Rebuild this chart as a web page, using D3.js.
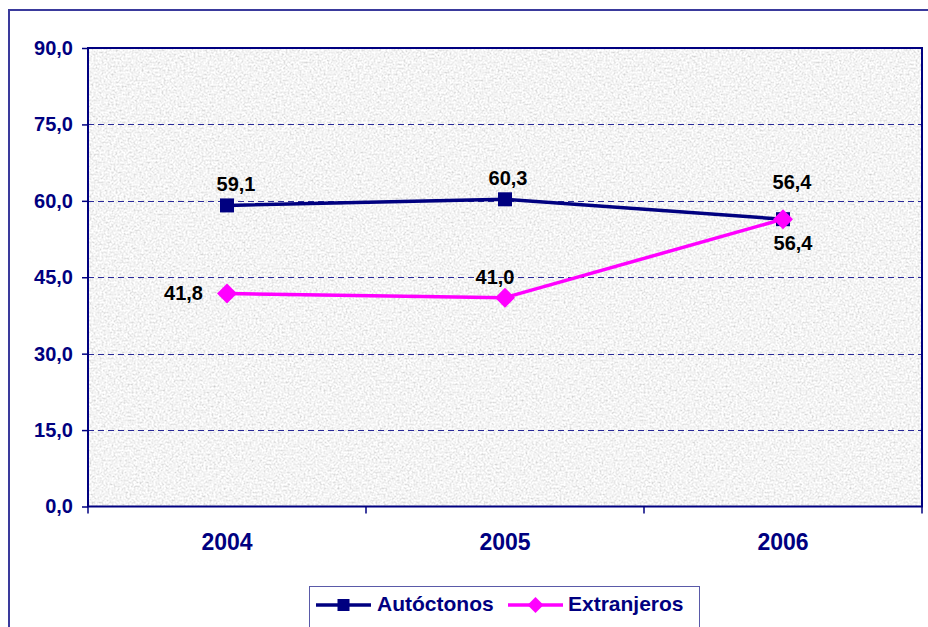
<!DOCTYPE html>
<html>
<head>
<meta charset="utf-8">
<script src="https://cdn.jsdelivr.net/npm/d3@7"></script>
<style>
  body { margin: 0; background: #fff; }
  svg { display: block; font-family: "Liberation Sans", Arial, sans-serif; font-weight: bold; }
</style>
</head>
<body>
<div id="chart"></div>
<script>
// ************** data *****************
var years = ["2004", "2005", "2006"];
var autoctonos = [59.1, 60.3, 56.4];
var extranjeros = [41.8, 41.0, 56.4];
var yTicks = [0, 15, 30, 45, 60, 75, 90];
var seriesNames = ["Autóctonos", "Extranjeros"];

// where the value labels sit round each point
var labelPosA = ["above", "above", "top"];
var labelPosE = ["left", "above", "below"];

var width = 928, height = 627;
var plot = {left: 88, top: 48, right: 922, bottom: 506.5};

var navy = "#000080", pink = "#ff00ff";

var svg = d3.select("#chart").append("svg")
  .attr("width", width)
  .attr("height", height);

// granite-like texture for the plot area
var defs = svg.append("defs");
var filt = defs.append("filter")
  .attr("id", "granite")
  .attr("x", 0).attr("y", 0).attr("width", 1).attr("height", 1);
filt.append("feTurbulence")
  .attr("type", "fractalNoise")
  .attr("baseFrequency", 0.5)
  .attr("numOctaves", 3)
  .attr("seed", 4)
  .attr("result", "noise");
filt.append("feColorMatrix")
  .attr("in", "noise")
  .attr("type", "matrix")
  .attr("values", "0.33 0.33 0.33 0 0  0.33 0.33 0.33 0 0  0.33 0.33 0.33 0 0  0 0 0 0 1")
  .attr("result", "gray");
var tr = filt.append("feComponentTransfer").attr("in", "gray");
["feFuncR", "feFuncG", "feFuncB"].forEach(function(f) {
  tr.append(f).attr("type", "linear").attr("slope", -1.1).attr("intercept", 1.45);
});

//outer frame
svg.append("rect")
  .attr("x", 9).attr("y", 10)
  .attr("width", 960).attr("height", 660)
  .attr("fill", "white")
  .attr("stroke", "#3a3a9c")
  .attr("stroke-width", 2);

//scales
var x = d3.scaleBand()
  .domain(years)
  .range([plot.left, plot.right]);

var y = d3.scaleLinear()
  .domain([0, 90])
  .range([plot.bottom, plot.top]);

//plot background
svg.append("rect")
  .attr("x", plot.left).attr("y", plot.top)
  .attr("width", plot.right - plot.left)
  .attr("height", plot.bottom - plot.top)
  .attr("fill", "#e6e6e6");
svg.append("rect")
  .attr("x", plot.left).attr("y", plot.top)
  .attr("width", plot.right - plot.left)
  .attr("height", plot.bottom - plot.top)
  .attr("filter", "url(#granite)");

//gridlines
svg.append("g")
  .selectAll("line")
  .data(yTicks.filter(function(d) { return d > 0 && d < 90; }))
  .enter()
  .append("line")
  .attr("x1", plot.left).attr("x2", plot.right)
  .attr("y1", function(d) { return Math.round(y(d)) + 0.5; })
  .attr("y2", function(d) { return Math.round(y(d)) + 0.5; })
  .attr("stroke", "#2a2a9a")
  .attr("stroke-width", 1)
  .attr("stroke-dasharray", "6,4");

//plot border
svg.append("rect")
  .attr("x", plot.left).attr("y", plot.top)
  .attr("width", plot.right - plot.left)
  .attr("height", plot.bottom - plot.top)
  .attr("fill", "none")
  .attr("stroke", navy)
  .attr("stroke-width", 2);

//y axis
var yAxis = svg.append("g")
  .attr("transform", "translate(" + plot.left + ",0)")
  .call(d3.axisLeft(y).tickValues(yTicks).tickSize(6).tickPadding(9)
    .tickFormat(function(d) { return d3.format(".1f")(d).replace(".", ","); }));
yAxis.select(".domain").remove();
yAxis.selectAll(".tick line").attr("stroke", navy).attr("stroke-width", 1.5);
yAxis.selectAll(".tick text")
  .attr("fill", navy)
  .attr("font-size", "20px")
  .attr("font-weight", "bold")
  .attr("font-family", "Liberation Sans, Arial, sans-serif");

//x axis: ticks between categories
svg.append("g")
  .selectAll("line")
  .data(years.concat(["end"]))
  .enter()
  .append("line")
  .attr("x1", function(d, i) { return plot.left + i * x.step(); })
  .attr("x2", function(d, i) { return plot.left + i * x.step(); })
  .attr("y1", plot.bottom)
  .attr("y2", plot.bottom + 7)
  .attr("stroke", navy)
  .attr("stroke-width", 1.5);

svg.append("g")
  .selectAll("text")
  .data(years)
  .enter()
  .append("text")
  .attr("x", function(d) { return x(d) + x.bandwidth() / 2; })
  .attr("y", 550)
  .attr("text-anchor", "middle")
  .attr("font-size", "23px")
  .attr("fill", navy)
  .text(function(d) { return d; });

//lines
var line = d3.line()
  .x(function(d, i) { return x(years[i]) + x.bandwidth() / 2; })
  .y(function(d) { return y(d); });

svg.append("path")
  .datum(autoctonos)
  .attr("d", line)
  .attr("fill", "none")
  .attr("stroke", navy)
  .attr("stroke-width", 3.5);

svg.append("path")
  .datum(extranjeros)
  .attr("d", line)
  .attr("fill", "none")
  .attr("stroke", pink)
  .attr("stroke-width", 3.5);

//markers
var sq = 14, dm = 10;
svg.append("g")
  .selectAll("rect")
  .data(autoctonos)
  .enter()
  .append("rect")
  .attr("x", function(d, i) { return x(years[i]) + x.bandwidth() / 2 - sq / 2; })
  .attr("y", function(d) { return y(d) - sq / 2; })
  .attr("width", sq)
  .attr("height", sq)
  .attr("fill", navy);

svg.append("g")
  .selectAll("path")
  .data(extranjeros)
  .enter()
  .append("path")
  .attr("transform", function(d, i) {
    return "translate(" + (x(years[i]) + x.bandwidth() / 2) + "," + y(d) + ")";
  })
  .attr("d", "M0," + (-dm) + "L" + dm + ",0L0," + dm + "L" + (-dm) + ",0Z")
  .attr("fill", pink);

//value labels
var fmt = function(d) { return d3.format(".1f")(d).replace(".", ","); };

function placeLabel(sel, pos, dx) {
  sel.attr("x", function(d, i) {
      var cx = x(years[i]) + x.bandwidth() / 2;
      if (pos[i] == "left") return cx - 24;
      return cx + dx[i];
    })
    .attr("y", function(d, i) {
      if (pos[i] == "above") return y(d) - 14;
      if (pos[i] == "top") return y(d) - 30;
      if (pos[i] == "below") return y(d) + 31;
      return y(d) + 1;
    })
    .attr("text-anchor", function(d, i) { return pos[i] == "left" ? "end" : "middle"; })
    .attr("dominant-baseline", function(d, i) { return pos[i] == "left" ? "middle" : "auto"; });
}

svg.append("g")
  .selectAll("text")
  .data(autoctonos)
  .enter()
  .append("text")
  .attr("font-size", "20px")
  .attr("fill", "black")
  .text(fmt)
  .call(placeLabel, labelPosA, [9, 3, 9]);

svg.append("g")
  .selectAll("text")
  .data(extranjeros)
  .enter()
  .append("text")
  .attr("font-size", "20px")
  .attr("fill", "black")
  .text(fmt)
  .call(placeLabel, labelPosE, [0, -10, 10]);

//legend
var legend = svg.append("g").attr("id", "legend");
legend.append("rect")
  .attr("x", 309.5).attr("y", 586.5)
  .attr("width", 390).attr("height", 60)
  .attr("fill", "white")
  .attr("stroke", "#5a5aa8")
  .attr("stroke-width", 1);

var legendItems = [
  {name: seriesNames[0], color: navy, x0: 316, tx: 377, marker: "square"},
  {name: seriesNames[1], color: pink, x0: 508, tx: 568, marker: "diamond"}
];
var ly = 605;
legendItems.forEach(function(it) {
  legend.append("line")
    .attr("x1", it.x0).attr("x2", it.x0 + 55)
    .attr("y1", ly).attr("y2", ly)
    .attr("stroke", it.color)
    .attr("stroke-width", 3.5);
  if (it.marker == "square") {
    legend.append("rect")
      .attr("x", it.x0 + 27.5 - 6).attr("y", ly - 6)
      .attr("width", 12).attr("height", 12)
      .attr("fill", it.color);
  } else {
    legend.append("path")
      .attr("transform", "translate(" + (it.x0 + 27.5) + "," + ly + ")")
      .attr("d", "M0,-8L8,0L0,8L-8,0Z")
      .attr("fill", it.color);
  }
  legend.append("text")
    .attr("x", it.tx).attr("y", ly)
    .attr("dominant-baseline", "middle")
    .attr("font-size", "21px")
    .attr("fill", navy)
    .text(it.name);
});
</script>
</body>
</html>
